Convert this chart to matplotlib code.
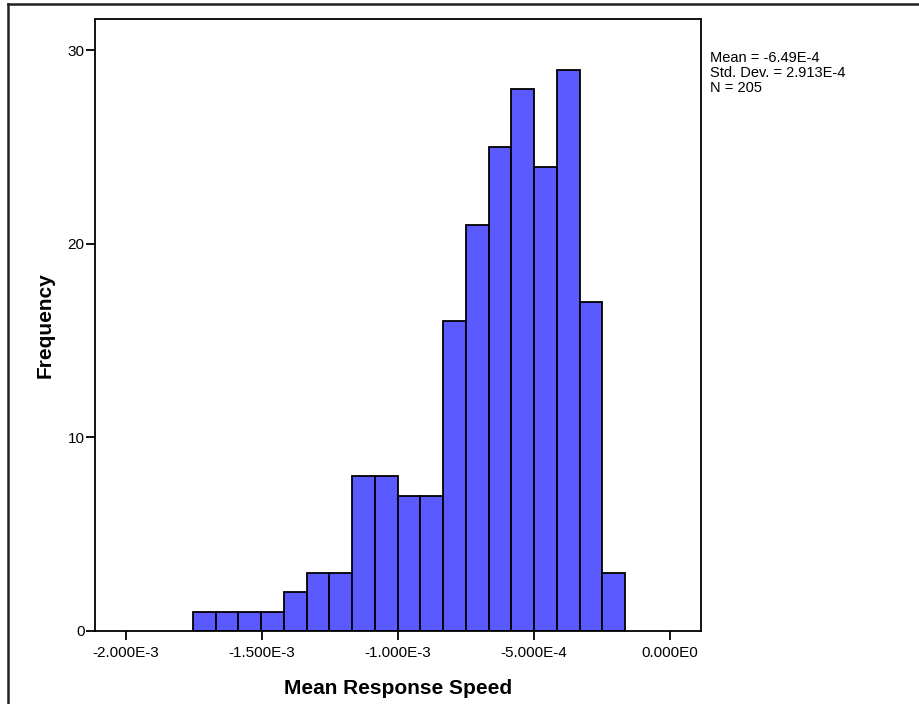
import matplotlib
matplotlib.use("Agg")
import matplotlib.pyplot as plt
from matplotlib.lines import Line2D

plt.rcParams['font.family'] = ['Liberation Sans', 'DejaVu Sans']

# Histogram data (bin counts), bins of equal width
counts = [1, 1, 1, 1, 2, 3, 3, 8, 8, 7, 7, 16, 21, 25, 28, 24, 29, 17, 3]
bin_start = -1.7537e-3
bin_width = 8.36e-5
x_ticks = [-2.0e-3, -1.5e-3, -1.0e-3, -5.0e-4, 0.0]
x_tick_labels = ["-2.000E-3", "-1.500E-3", "-1.000E-3", "-5.000E-4", "0.000E0"]
y_ticks = [0, 10, 20, 30]
stats_text = "Mean = -6.49E-4\nStd. Dev. = 2.913E-4\nN = 205"

W, H = 919, 704
fig = plt.figure(figsize=(W / 100, H / 100), dpi=100)
ax = fig.add_axes([95 / W, (H - 631) / H, (701 - 95) / W, (631 - 19.5) / H])

lefts = [bin_start + i * bin_width for i in range(len(counts))]
ax.bar(lefts, counts, width=bin_width, align='edge', color='#5a5aff',
       edgecolor='black', linewidth=1.3)

ax.set_xlim(-2.114e-3, 1.14e-4)
ax.set_ylim(0, 31.6)
ax.set_xticks(x_ticks)
ax.set_xticklabels(x_tick_labels)
ax.set_yticks(y_ticks)
ax.tick_params(axis='both', direction='out', length=6.5, width=1.3,
               labelsize=11, colors='black')
ax.tick_params(axis='x', pad=4)
ax.tick_params(axis='y', pad=1)
for s in ax.spines.values():
    s.set_linewidth(1.3)
    s.set_color('black')

ax.set_xlabel("Mean Response Speed", fontsize=15, fontweight='bold', labelpad=14)
ax.set_ylabel("Frequency", fontsize=15, fontweight='bold')
ax.yaxis.set_label_coords((55 - 95) / (701 - 95), 0.5)

fig.text(710 / W, 1 - 51 / H, stats_text, fontsize=10.5, va='top', ha='left',
         linespacing=1.07)

# outer frame (top and left)
fig.add_artist(Line2D([8 / W, 1.0], [1 - 4 / H, 1 - 4 / H], transform=fig.transFigure,
                      color='#222222', linewidth=1.8))
fig.add_artist(Line2D([8 / W, 8 / W], [0, 1 - 4 / H], transform=fig.transFigure,
                      color='#222222', linewidth=1.8))

fig.savefig("out.png", dpi=100)
